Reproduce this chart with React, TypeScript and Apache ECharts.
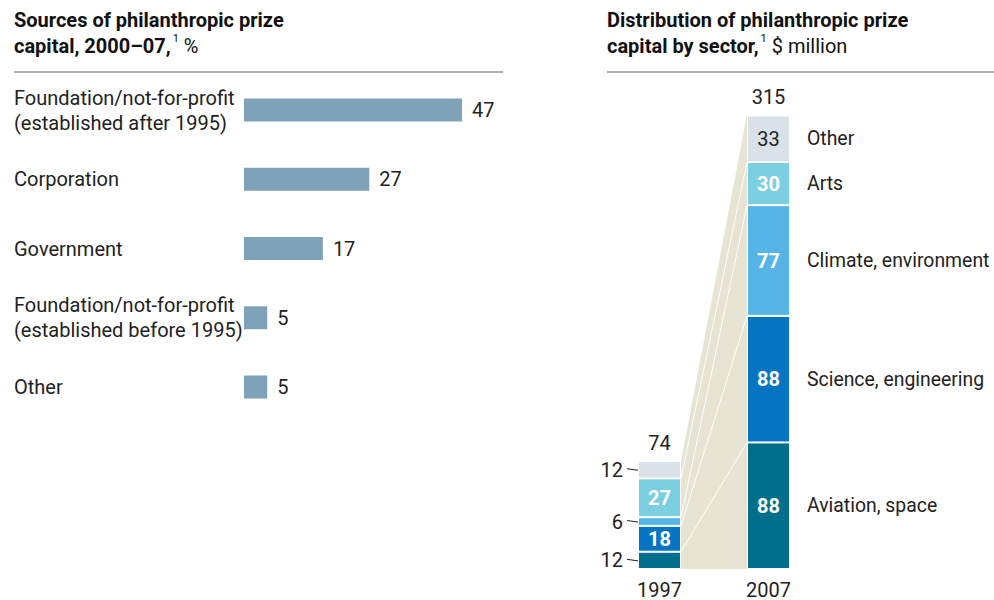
import React, { useEffect, useRef } from "react";
import * as echarts from "echarts";

// ---- Data ----
const sourceCategories = [
  "Foundation/not-for-profit\n(established after 1995)",
  "Corporation",
  "Government",
  "Foundation/not-for-profit\n(established before 1995)",
  "Other",
];
const sourceValues = [47, 27, 17, 5, 5];

const years = ["1997", "2007"];
const sectors = ["Aviation, space", "Science, engineering", "Climate, environment", "Arts", "Other"];
const values1997 = [12, 18, 6, 27, 12];
const values2007 = [88, 88, 77, 30, 33];
const totals = [74, 315];

// ---- Style ----
const FONT = "Roboto, 'Liberation Sans', sans-serif";
const FS = 20;
const TEXT = "#222222";
const sectorColors = ["#006f8c", "#0675c1", "#56b5e6", "#7ccfe0", "#d8e2e8"];
const BAND = "#e7e4d4";
const BW = 43;

export default function App() {
  const ref = useRef<HTMLDivElement>(null);
  useEffect(() => {
    if (!ref.current) return;
    const chart = echarts.init(ref.current, undefined, { renderer: "svg" });

    const sectorSeries = sectors.map((name, si) => ({
      type: "bar",
      name,
      stack: "s",
      xAxisIndex: 1,
      yAxisIndex: 1,
      barWidth: BW,
      itemStyle: { color: sectorColors[si], borderColor: "#ffffff", borderWidth: 1 },
      data: [values1997[si], values2007[si]].map((v, yi) => {
        const outside = yi === 0 && v < 15;
        const isOther = name === "Other";
        return {
          value: v,
          label: {
            show: true,
            position: outside ? "left" : "inside",
            distance: 15,
            color: outside || isOther ? TEXT : "#ffffff",
            fontWeight: outside || isOther ? "normal" : "bold",
            fontSize: FS,
            fontFamily: FONT,
          },
        };
      }),
    }));

    const cumulative = (arr: number[]) => {
      const out = [0];
      arr.forEach((v) => out.push(out[out.length - 1] + v));
      return out;
    };
    const cum1997 = cumulative(values1997);
    const cum2007 = cumulative(values2007);

    const overlay = {
      type: "custom",
      xAxisIndex: 1,
      yAxisIndex: 1,
      z: 1,
      silent: true,
      clip: false,
      encode: { x: 0, y: 1 },
      data: [[0, 0]],
      renderItem: (params: any, api: any) => {
        const c = (i: number, v: number) => api.coord([i, v]);
        const x1 = c(0, 0)[0] + BW / 2;
        const x2 = c(1, 0)[0] - BW / 2;
        const base = c(0, 0)[1];
        const children: any[] = [];
        children.push({
          type: "polygon",
          shape: {
            points: [
              [x1, base],
              [x1, c(0, cum1997[5])[1]],
              [x2, c(1, cum2007[5])[1]],
              [x2, base],
            ],
          },
          style: { fill: BAND },
        });
        for (let k = 1; k < 5; k++) {
          children.push({
            type: "line",
            shape: { x1, y1: c(0, cum1997[k])[1], x2, y2: c(1, cum2007[k])[1] },
            style: { stroke: "#ffffff", lineWidth: 1 },
          });
        }
        // leader lines for outside labels (1997)
        const left0 = c(0, 0)[0] - BW / 2;
        values1997.forEach((v, i) => {
          if (v < 15) {
            const cy = c(0, (cum1997[i] + cum1997[i + 1]) / 2)[1];
            children.push({
              type: "line",
              shape: { x1: left0 - 11, y1: cy - 1, x2: left0 + 4, y2: cy + 1 },
              style: { stroke: TEXT, lineWidth: 1 },
              z2: 10,
            });
          }
        });
        // totals
        [cum1997[5], cum2007[5]].forEach((top, i) => {
          const p = c(i, top);
          children.push({
            type: "text",
            x: p[0],
            y: p[1] - 8,
            style: {
              text: String(totals[i]),
              fill: TEXT,
              fontSize: FS,
              fontFamily: FONT,
              align: "center",
              verticalAlign: "bottom",
            },
          });
        });
        // sector names next to 2007 bar
        const right1 = c(1, 0)[0] + BW / 2 + 17;
        sectors.forEach((s, i) => {
          const cy = c(1, (cum2007[i] + cum2007[i + 1]) / 2)[1];
          children.push({
            type: "text",
            x: right1,
            y: cy,
            style: {
              text: s,
              fill: TEXT,
              fontSize: 19.4,
              fontFamily: FONT,
              align: "left",
              verticalAlign: "middle",
            },
          });
        });
        return { type: "group", children };
      },
    };

    const titleRich = {
      b: { fontFamily: FONT, fontWeight: "bold", fontSize: FS, color: "#111", lineHeight: 26 },
      sup: { fontFamily: FONT, fontWeight: "normal", fontSize: 11, color: "#111", verticalAlign: "top", padding: [0, 0, 8, 2], lineHeight: 26 },
      n: { fontFamily: FONT, fontWeight: "normal", fontSize: FS, color: "#111", lineHeight: 26 },
    };

    chart.setOption({
      animation: false,
      backgroundColor: "#ffffff",
      title: [
        {
          left: 14,
          top: 7,
          padding: 0,
          text: "{b|Sources of philanthropic prize}\n{b|capital, 2000–07,}{sup|1}{n| %}",
          textStyle: { rich: titleRich },
        },
        {
          left: 607,
          top: 7,
          padding: 0,
          text: "{b|Distribution of philanthropic prize}\n{b|capital by sector,}{sup|1}{n| $ million}",
          textStyle: { rich: titleRich },
        },
      ],
      graphic: [
        { type: "line", shape: { x1: 14, y1: 72, x2: 503, y2: 72 }, style: { stroke: "#9a9a9a", lineWidth: 1.5 } },
        { type: "line", shape: { x1: 607, y1: 72, x2: 994, y2: 72 }, style: { stroke: "#9a9a9a", lineWidth: 1.5 } },
      ],
      grid: [
        { left: 244, width: 232, top: 75.4, height: 346.2 },
        { left: 605, width: 218, top: 116, bottom: 29 },
      ],
      xAxis: [
        { gridIndex: 0, type: "value", min: 0, max: 50, show: false },
        {
          gridIndex: 1,
          type: "category",
          data: years,
          axisLine: { show: false },
          axisTick: { show: false },
          axisLabel: { color: TEXT, fontSize: FS, fontFamily: FONT, margin: 11 },
        },
      ],
      yAxis: [
        {
          gridIndex: 0,
          type: "category",
          inverse: true,
          data: sourceCategories,
          axisLine: { show: false },
          axisTick: { show: false },
          axisLabel: {
            align: "left",
            margin: 230,
            color: TEXT,
            fontSize: FS,
            lineHeight: 25,
            fontFamily: FONT,
          },
        },
        { gridIndex: 1, type: "value", min: 0, max: 315, show: false },
      ],
      series: [
        {
          type: "bar",
          xAxisIndex: 0,
          yAxisIndex: 0,
          barWidth: 23,
          data: sourceValues,
          itemStyle: { color: "#80a2b8" },
          label: {
            show: true,
            position: "right",
            distance: 10,
            color: TEXT,
            fontSize: FS,
            fontFamily: FONT,
          },
        },
        overlay,
        ...sectorSeries,
      ],
    });
    return () => chart.dispose();
  }, []);
  return <div ref={ref} style={{ position: "fixed", left: 0, top: 0, width: 994, height: 600 }} />;
}
